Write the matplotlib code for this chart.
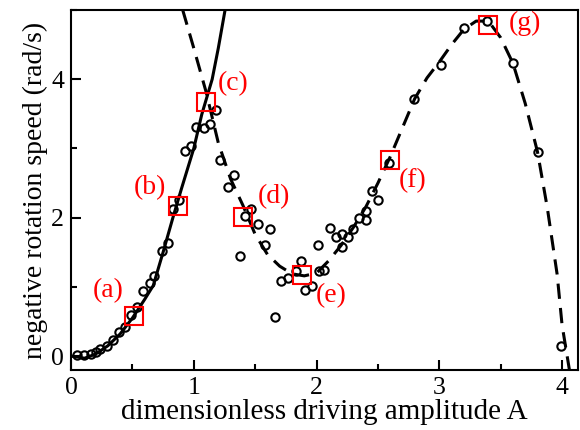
import numpy as np
import matplotlib.pyplot as plt
from matplotlib.ticker import MultipleLocator

plt.rcParams['font.family'] = ['Liberation Serif', 'DejaVu Serif']

# solid branch (low amplitude)
solid_x = [0.0, 0.05, 0.11, 0.2, 0.3, 0.4, 0.5, 0.6, 0.67, 0.75, 0.83, 0.9, 1.0, 1.065, 1.15, 1.2, 1.255]
solid_y = [0.0, -0.01, -0.03, 0.03, 0.15, 0.32, 0.55, 0.82, 1.02, 1.5, 2.0, 2.42, 3.0, 3.49, 4.0, 4.45, 5.0]

# dashed branch
dash_x = [0.91, 1.0, 1.1, 1.2, 1.3, 1.4, 1.5, 1.6, 1.7, 1.8, 1.9, 2.0, 2.1, 2.2, 2.3, 2.4,
          2.5, 2.6, 2.7, 2.8, 2.9, 3.0, 3.1, 3.2, 3.3, 3.4, 3.5, 3.6, 3.7, 3.8, 3.88, 3.96, 4.0, 4.06]
dash_y = [5.0, 4.45, 3.82, 3.08, 2.56, 2.18, 1.76, 1.47, 1.3, 1.19, 1.16, 1.2, 1.38, 1.6, 1.86, 2.15,
          2.5, 2.88, 3.3, 3.72, 4.02, 4.25, 4.5, 4.72, 4.84, 4.84, 4.6, 4.23, 3.65, 2.95, 2.14, 1.18, 0.45, -0.2]

# measured points
meas_x = [0.05, 0.11, 0.16, 0.20, 0.24, 0.29, 0.34, 0.39, 0.44, 0.49, 0.54, 0.59, 0.64, 0.68,
          0.74, 0.79, 0.83, 0.88, 0.93, 0.975, 1.02, 1.08, 1.13, 1.18,
          1.21, 1.33, 1.28, 1.38, 1.42, 1.47, 1.52, 1.58, 1.62, 1.66, 1.71, 1.77, 1.83, 1.87,
          1.91, 1.96, 2.01, 2.02, 2.06, 2.11, 2.16, 2.21, 2.21, 2.26, 2.30, 2.35, 2.40, 2.40,
          2.45, 2.50, 2.59, 2.79, 3.01, 3.20, 3.39, 3.60, 3.80, 3.99]
meas_y = [0.02, 0.01, 0.03, 0.06, 0.10, 0.14, 0.24, 0.35, 0.42, 0.60, 0.71, 0.94, 1.06, 1.16,
          1.52, 1.64, 2.12, 2.25, 2.96, 3.03, 3.31, 3.30, 3.36, 3.56,
          2.84, 2.62, 2.44, 1.44, 2.02, 2.12, 1.91, 1.60, 1.83, 0.56, 1.08, 1.13, 1.23, 1.37,
          0.96, 1.01, 1.61, 1.23, 1.24, 1.85, 1.72, 1.76, 1.58, 1.72, 1.84, 1.99, 1.97, 2.10,
          2.38, 2.25, 2.79, 3.71, 4.20, 4.74, 4.84, 4.23, 2.95, 0.14]

# highlighted states
box_x = [0.51, 0.87, 1.10, 1.40, 1.88, 2.60, 3.40]
box_y = [0.58, 2.17, 3.67, 2.01, 1.17, 2.84, 4.78]
box_labels = ['(a)', '(b)', '(c)', '(d)', '(e)', '(f)', '(g)']
label_x = [0.30, 0.64, 1.32, 1.65, 2.12, 2.78, 3.70]
label_y = [0.94, 2.44, 3.93, 2.31, 0.87, 2.53, 4.80]

fig = plt.figure(figsize=(5.8, 4.3), dpi=100)
ax = fig.add_axes([0.1224, 0.1395, 0.8742, 0.8372])

ax.plot(solid_x, solid_y, color='black', lw=2.2)
ax.plot(dash_x, dash_y, color='black', lw=2.2, dashes=(5, 3))
ax.plot(meas_x, meas_y, 'o', mfc='none', mec='black', mew=1.5, ms=6)
ax.plot(box_x, box_y, 's', mfc='none', mec='red', mew=1.5, ms=13)
for lx, ly, t in zip(label_x, label_y, box_labels):
    ax.text(lx, ly, t, color='red', fontsize=20, ha='center', va='center')

ax.set_xlim(0, 4.13)
ax.set_ylim(-0.2, 5)
ax.xaxis.set_major_locator(MultipleLocator(1))
ax.xaxis.set_minor_locator(MultipleLocator(0.5))
ax.yaxis.set_major_locator(MultipleLocator(2))
ax.yaxis.set_minor_locator(MultipleLocator(1))
ax.tick_params(which='both', direction='in', top=False, right=False, width=1.5, labelsize=18.5)
ax.tick_params(which='major', length=7.5, pad=5)
ax.tick_params(which='minor', length=4.5)
for s in ax.spines.values():
    s.set_linewidth(1.5)

ax.set_xlabel('dimensionless driving amplitude A', fontsize=21, labelpad=0)
ax.set_ylabel('negative rotation speed (rad/s)', fontsize=20, labelpad=2)

fig.savefig('out.png', dpi=100)
